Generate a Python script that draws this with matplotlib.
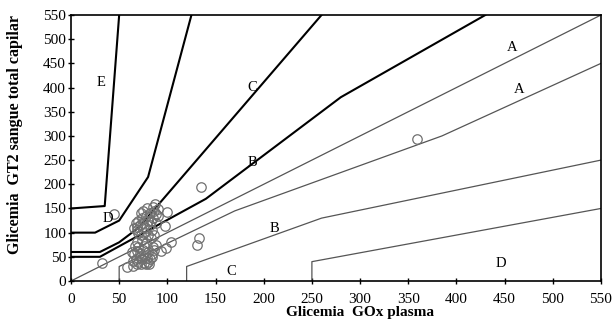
import matplotlib
matplotlib.use("Agg")
import matplotlib.pyplot as plt

plt.rcParams['font.family'] = ['Liberation Serif', 'DejaVu Serif']

# Parkes (type 1) error grid boundaries
upper_de_x = [0, 35, 50]
upper_de_y = [150, 155, 550]
upper_cd_x = [0, 25, 50, 80, 125]
upper_cd_y = [100, 100, 125, 215, 550]
upper_bc_x = [0, 30, 50, 70, 260]
upper_bc_y = [60, 60, 80, 110, 550]
upper_ab_x = [0, 30, 140, 280, 430]
upper_ab_y = [50, 50, 170, 380, 550]
ident_x = [0, 550]
ident_y = [0, 550]
lower_ab_x = [50, 50, 170, 385, 550]
lower_ab_y = [0, 30, 145, 300, 450]
lower_bc_x = [120, 120, 260, 550]
lower_bc_y = [0, 30, 130, 250]
lower_cd_x = [250, 250, 550]
lower_cd_y = [0, 40, 150]

# zone labels
zone_labels = ["E", "D", "C", "B", "A", "A", "B", "C", "D"]
zone_x = [31, 38, 188, 188, 458, 465, 211, 166, 446]
zone_y = [410, 130, 400, 246, 482, 395, 108, 19, 37]

# measured points
pts_x = [32, 45, 135, 359, 133, 131, 100, 98, 104, 99, 93, 84, 58, 64,
         87, 85, 90, 75, 73, 78, 82, 88, 70, 67, 65, 68, 72, 75, 80, 85,
         90, 78, 82, 70, 73, 76, 80, 84, 88, 86, 74, 79, 83, 69,
         63, 65, 67, 68, 70, 72, 74, 76, 78, 80, 82, 84, 86, 88, 85, 80,
         75, 70, 66, 68, 72, 77, 79, 81, 73, 64, 69, 74, 78, 83, 86, 76]
pts_y = [37, 138, 195, 293, 89, 75, 143, 114, 81, 68, 62, 50, 28, 32,
         160, 152, 148, 145, 140, 135, 140, 138, 125, 120, 110, 105, 115, 120, 125, 130,
         135, 110, 115, 100, 95, 100, 95, 105, 120, 145, 130, 150, 125, 112,
         60, 55, 45, 35, 40, 50, 45, 38, 35, 40, 45, 55, 65, 75, 70, 60,
         65, 70, 72, 62, 58, 52, 48, 35, 36, 42, 80, 85, 78, 88, 95, 72]

fig = plt.figure(figsize=(6.13, 3.24), dpi=100)
ax = fig.add_axes([0.1158, 0.1327, 0.8646, 0.821])

thick = dict(color='black', lw=1.5)
thin = dict(color='#555555', lw=0.9)
ax.plot(upper_de_x, upper_de_y, **thick)
ax.plot(upper_cd_x, upper_cd_y, **thick)
ax.plot(upper_bc_x, upper_bc_y, **thick)
ax.plot(upper_ab_x, upper_ab_y, **thick)
ax.plot(ident_x, ident_y, **thin)
ax.plot(lower_ab_x, lower_ab_y, **thin)
ax.plot(lower_bc_x, lower_bc_y, **thin)
ax.plot(lower_cd_x, lower_cd_y, **thin)

ax.plot(pts_x, pts_y, 'o', mfc='none', mec='#707070', ms=6.8, mew=0.9, zorder=3)

for lab, x, y in zip(zone_labels, zone_x, zone_y):
    ax.text(x, y, lab, fontsize=10.5, ha='center', va='center')

ax.set_xlim(0, 550)
ax.set_ylim(0, 550)
ax.set_xticks(range(0, 551, 50))
ax.set_yticks(range(0, 551, 50))
ax.tick_params(direction='inout', length=5, width=1, labelsize=11)
ax.tick_params(axis='x', pad=6)
ax.tick_params(axis='y', pad=1)
for s in ax.spines.values():
    s.set_linewidth(1.2)
ax.set_xlabel("Glicemia  GOx plasma", fontsize=11, fontweight='bold', va='top')
ax.set_ylabel("Glicemia  GT2 sangue total capilar", fontsize=11.5, fontweight='bold')
ax.xaxis.set_label_coords(0.545, -0.094)
ax.yaxis.set_label_coords(-0.09, 0.55)

fig.savefig("out.png", dpi=100)
